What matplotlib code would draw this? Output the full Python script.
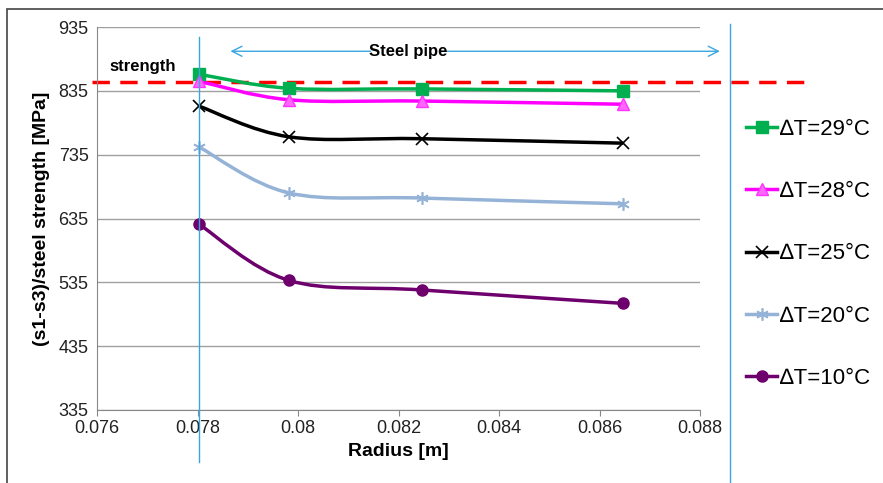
import matplotlib.pyplot as plt
import numpy as np
from matplotlib.path import Path
from matplotlib.patches import PathPatch
from matplotlib.lines import Line2D

plt.rcParams['font.family'] = ['Liberation Sans', 'DejaVu Sans']

radius = [0.07803, 0.07982, 0.08247, 0.08647]
dt29 = [861, 839, 838, 835]
dt28 = [850, 821, 819, 814]
dt25 = [811, 763, 760, 753]
dt20 = [747, 675, 667, 658]
dt10 = [626, 538, 523, 502]
labels = ['\u2206T=29°C', '\u2206T=28°C', '\u2206T=25°C', '\u2206T=20°C', '\u2206T=10°C']
strength = 849
yticks = [335, 435, 535, 635, 735, 835, 935]
xticks = [0.076, 0.078, 0.08, 0.082, 0.084, 0.086, 0.088]
xtick_labels = ['0.076', '0.078', '0.08', '0.082', '0.084', '0.086', '0.088']

styles = [
    dict(color='#00B050', marker='s', mfc='#00B050', mec='#00B050', ms=8),
    dict(color='#FF00FF', marker='^', mfc='#FF66FF', mec='#FF33FF', ms=8),
    dict(color='black', marker='x', mfc='black', mec='black', ms=8, mew=1.2),
    dict(color='#95B3D7', marker=(6, 2, 0), mfc='#95B3D7', mec='#95B3D7', ms=9, mew=1.2),
    dict(color='#6E006E', marker='o', mfc='#6E006E', mec='#6E006E', ms=8),
]


def smooth_path(x, y):
    # catmull-rom style smoothing like excel's smoothed line
    pts = np.column_stack([x, y]).astype(float)
    verts = [pts[0]]
    codes = [Path.MOVETO]
    n = len(pts)
    for i in range(n - 1):
        p0 = pts[i - 1] if i > 0 else pts[i]
        p1 = pts[i]
        p2 = pts[i + 1]
        p3 = pts[i + 2] if i + 2 < n else pts[i + 1]
        c1 = p1 + (p2 - p0) / 6
        c2 = p2 - (p3 - p1) / 6
        verts += [c1, c2, p2]
        codes += [Path.CURVE4] * 3
    return Path(verts, codes)


fig = plt.figure(figsize=(8.83, 4.83), dpi=100)
ax = fig.add_axes([97 / 883, 1 - 410 / 483, 603 / 883, 383 / 483])

ax.set_xlim(0.076, 0.088)
ax.set_ylim(335, 935)
ax.set_yticks(yticks)
ax.set_xticks(xticks)
ax.set_xticklabels(xtick_labels)
ax.tick_params(labelsize=13, colors='#222222', length=4, color='#888888')
ax.tick_params(axis='y', length=0, pad=6)
ax.grid(axis='y', color='#A0A0A0', lw=1)
ax.set_axisbelow(True)
for s in ['top', 'right']:
    ax.spines[s].set_visible(False)
for s in ['left', 'bottom']:
    ax.spines[s].set_color('#888888')

series = [dt29, dt28, dt25, dt20, dt10]
handles = []
for vals, st, lab in zip(series, styles, labels):
    patch = PathPatch(smooth_path(radius, vals), fill=False, edgecolor=st['color'], lw=2.5, zorder=3)
    ax.add_patch(patch)
    ax.plot(radius, vals, ls='none', marker=st['marker'], ms=st['ms'], mfc=st['mfc'],
            mec=st['mec'], mew=st.get('mew', 1), zorder=4, clip_on=False)
    handles.append(Line2D([], [], color=st['color'], lw=2.5, marker=st['marker'],
                          ms=st['ms'], mfc=st['mfc'], mec=st['mec'], mew=st.get('mew', 1)))

# strength line
ax.plot([0.0759, 0.0901], [strength, strength], ls=(0, (5, 3)), color='#FF0000', lw=2.5,
        zorder=2, clip_on=False)
ax.text(0.07625, 861, 'strength', fontsize=12, fontweight='bold', ha='left', va='bottom')

# pipe boundaries
ax.plot([0.07803, 0.07803], [254, 919], color='#3AA6E0', lw=1, clip_on=False, zorder=5)
ax.plot([0.0886, 0.0886], [200, 940], color='#3AA6E0', lw=1, clip_on=False, zorder=5)
ax.annotate('', xy=(0.0786, 897), xytext=(0.0815, 897),
            arrowprops=dict(arrowstyle='->', color='#3AA6E0', lw=1, mutation_scale=18),
            annotation_clip=False)
ax.annotate('', xy=(0.08845, 897), xytext=(0.0829, 897),
            arrowprops=dict(arrowstyle='->', color='#3AA6E0', lw=1, mutation_scale=18),
            annotation_clip=False)
ax.text(0.0822, 897, 'Steel pipe', fontsize=12, fontweight='bold', ha='center', va='center')

ax.set_xlabel('Radius [m]', fontsize=14, fontweight='bold', labelpad=4)
ax.set_ylabel('(s1-s3)/steel strength [MPa]', fontsize=14, fontweight='bold', labelpad=6)

fig.legend(handles, labels, loc='center left', bbox_to_anchor=(746 / 883, 1 - 254 / 483),
           frameon=False, fontsize=16, handlelength=1.4, handletextpad=0.15,
           labelspacing=1.86, borderpad=0, borderaxespad=0)

# outer frame
fig.patches.append(plt.Rectangle((7 / 883, -0.05), 1, 1.05 - 9 / 483, transform=fig.transFigure,
                                 fill=False, edgecolor='#444444', lw=1.2))

fig.savefig('out.png', dpi=100)
